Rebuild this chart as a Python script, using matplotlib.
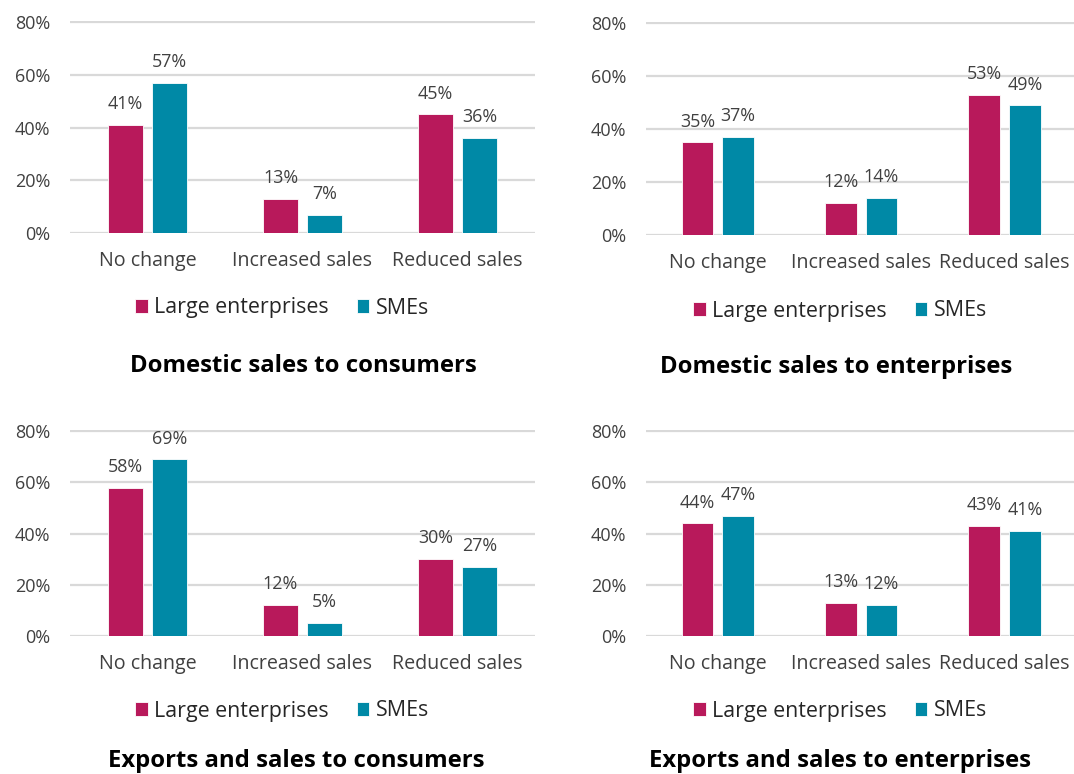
import matplotlib.pyplot as plt

plt.rcParams['font.family'] = ['Open Sans', 'DejaVu Sans']

categories = ['No change', 'Increased sales', 'Reduced sales']
series_names = ['Large enterprises', 'SMEs']
colors = ['#B8195B', '#0089A6']

titles = ['Domestic sales to consumers', 'Domestic sales to enterprises',
          'Exports and sales to consumers', 'Exports and sales to enterprises']

large_dom_cons = [41, 13, 45]
sme_dom_cons = [57, 7, 36]
large_dom_ent = [35, 12, 53]
sme_dom_ent = [37, 14, 49]
large_exp_cons = [58, 12, 30]
sme_exp_cons = [69, 5, 27]
large_exp_ent = [44, 13, 43]
sme_exp_ent = [47, 12, 41]

yticks = [0, 20, 40, 60, 80]

W, H = 1074, 774
fig = plt.figure(figsize=(W / 100, H / 100), dpi=100)


def px_axes(left, right, top, bottom):
    return fig.add_axes([left / W, 1 - bottom / H, (right - left) / W, (bottom - top) / H])


def draw_panel(ax, large, sme, xmax, title, title_xy, legend_xy):
    x = range(len(categories))
    bw, offset = 0.22, 0.142
    b1 = ax.bar([i - offset for i in x], large, bw, color=colors[0], edgecolor='white', linewidth=0.6,
                label=series_names[0], zorder=3)
    b2 = ax.bar([i + offset for i in x], sme, bw, color=colors[1], edgecolor='white', linewidth=0.6,
                label=series_names[1], zorder=3)
    for bars in (b1, b2):
        ax.bar_label(bars, labels=[f'{v:.0f}%' for v in bars.datavalues], padding=8.5,
                     fontsize=12.9, color='#404040')
    ax.set_xlim(-0.5, xmax)
    ax.set_ylim(0, 80.5)
    ax.set_yticks(yticks)
    ax.set_yticklabels([f'{t}%' for t in yticks])
    ax.set_xticks(list(x))
    ax.set_xticklabels(categories, fontsize=14.1)
    ax.tick_params(axis='both', length=0, labelcolor='#404040')
    ax.tick_params(axis='y', pad=14, labelsize=13)
    ax.tick_params(axis='x', pad=13)
    ax.yaxis.grid(True, color='#D9D9D9', linewidth=1.6, zorder=0)
    ax.set_axisbelow(True)
    for s in ax.spines.values():
        s.set_visible(False)
    fig.legend(handles=[b1, b2], loc='center', bbox_to_anchor=(legend_xy[0] / W, 1 - legend_xy[1] / H),
               ncol=2, frameon=False, fontsize=15.4, handlelength=0.6, handleheight=0.6,
               handletextpad=0.3, columnspacing=1.3, labelcolor='#262626')
    fig.text(title_xy[0] / W, 1 - title_xy[1] / H, title, ha='center', va='center',
             fontsize=17.2, fontweight='bold', color='black')


# left column spans 3 categories over 465 px; right column runs off the edge
ax1 = px_axes(70, 535, 21, 233)
draw_panel(ax1, large_dom_cons, sme_dom_cons, 2.5, titles[0], (303, 366), (282, 308))

ax2 = px_axes(646, 1074, 22, 235)
draw_panel(ax2, large_dom_ent, sme_dom_ent, 2.484, titles[1], (836, 367), (840, 311))

ax3 = px_axes(70, 535, 430, 636)
draw_panel(ax3, large_exp_cons, sme_exp_cons, 2.5, titles[2], (296, 761), (282, 711))

ax4 = px_axes(646, 1074, 430, 636)
draw_panel(ax4, large_exp_ent, sme_exp_ent, 2.484, titles[3], (840, 761), (840, 711))

fig.savefig('out.png', dpi=100, facecolor='white')
